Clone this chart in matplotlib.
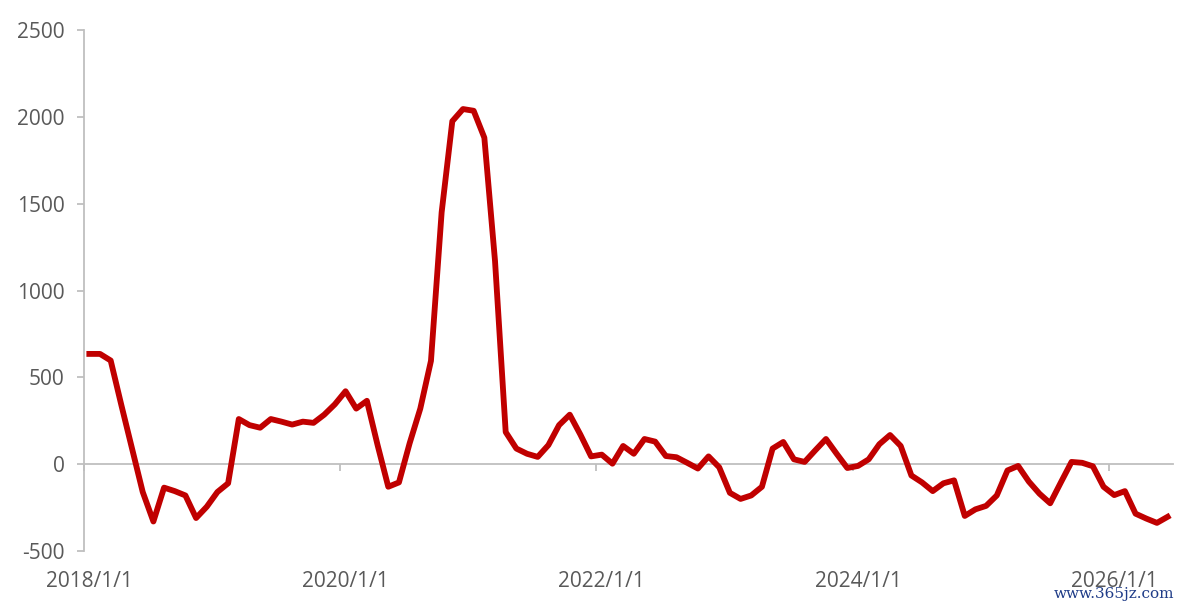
import matplotlib.pyplot as plt
from matplotlib.transforms import blended_transform_factory

# monthly series, 2018/1 .. 2026/6
values = [635, 635, 597, 340, 90, -160, -330, -135, -155, -180,
          -310, -245, -160, -110, 260, 225, 210, 260, 245, 228,
          245, 238, 285, 345, 420, 320, 365, 110, -130, -105,
          120, 320, 595, 1450, 1975, 2045, 2035, 1880, 1170, 185,
          90, 60, 42, 110, 225, 285, 170, 45, 55, 3,
          105, 60, 145, 130, 47, 40, 8, -25, 45, -18,
          -165, -200, -180, -130, 90, 128, 28, 13, 80, 145,
          60, -22, -10, 28, 115, 168, 105, -65, -105, -155,
          -110, -93, -298, -260, -240, -180, -36, -10, -100, -170,
          -225, -105, 13, 8, -12, -130, -178, -155, -285, -313,
          -338, -303]
date_labels = ['2018/1/1', '2020/1/1', '2022/1/1', '2024/1/1', '2026/1/1']
label_months = [0, 24, 48, 72, 96]
y_ticks = [-500, 0, 500, 1000, 1500, 2000, 2500]

grey = '#BFBFBF'
txt = '#595959'
plt.rcParams['font.family'] = ['Open Sans', 'DejaVu Sans']
plt.rcParams['axes.unicode_minus'] = False

fig = plt.figure(figsize=(11.83, 6.09), dpi=100)
ax = fig.add_axes([0.071, 0.0952, 0.9205, 0.8555])

months = [i + 0.5 for i in range(len(values))]
ax.plot(months, values, color='#C00000', lw=4.2, solid_joinstyle='round', zorder=3)

ax.set_xlim(0, len(values))
ax.set_ylim(-500, 2500)

# y axis
ax.set_yticks(y_ticks)
ax.tick_params(axis='y', direction='out', length=5, color=grey, width=1.3,
               labelsize=15, labelcolor=txt, pad=9)
ax.spines['left'].set_color(grey)
ax.spines['left'].set_linewidth(1.3)
ax.spines['top'].set_visible(False)
ax.spines['right'].set_visible(False)

# x axis sits at zero, labels stay at the bottom
ax.spines['bottom'].set_position(('data', 0))
ax.spines['bottom'].set_color(grey)
ax.spines['bottom'].set_linewidth(1.3)
ax.set_xticks(label_months)
ax.set_xticklabels([])
ax.tick_params(axis='x', direction='out', length=5, color=grey, width=1.3)

trans = blended_transform_factory(ax.transData, ax.transAxes)
for m, lab in zip(label_months, date_labels):
    ax.text(m + 0.5, -0.058, lab, transform=trans, ha='center', va='center',
            fontsize=15, color=txt)

# watermark
fig.text(0.993, 0.025, 'www.365jz.com', ha='right', va='center', fontsize=11,
         color='#1F3C88', family='DejaVu Serif')

plt.savefig('out.png', dpi=100)
